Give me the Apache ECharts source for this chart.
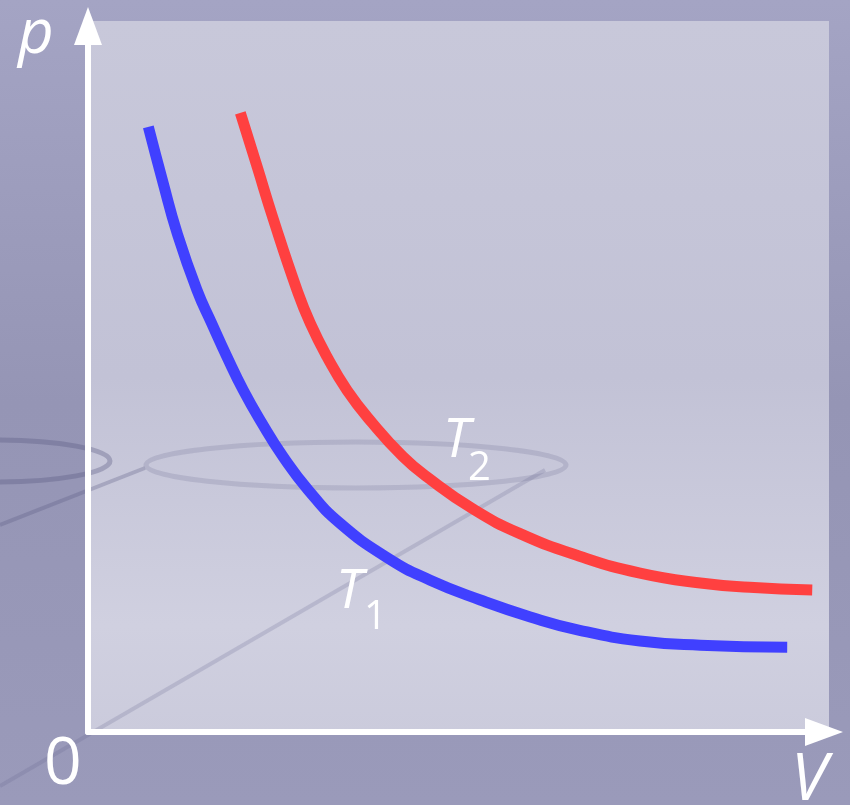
<!DOCTYPE html>
<html>
<head>
<meta charset="utf-8">
<script src="https://cdn.jsdelivr.net/npm/echarts@6/dist/echarts.min.js"></script>
<style>
  html, body { margin: 0; padding: 0; background: #9c9cbc; }
  #chart { width: 850px; height: 805px; }
</style>
</head>
<body>
<div id="chart"></div>
<script>
// isotherms p-V (arbitrary units, axes 0..10)
const t1V = [0.82, 1.02, 1.21, 1.48, 1.68, 1.89, 2.11, 2.36, 2.65, 2.99, 3.42, 4.08, 4.65, 5.33, 6.01, 6.68, 7.50, 8.32, 9.50]
const t1P = [8.57, 7.78, 7.07, 6.26, 5.79, 5.31, 4.84, 4.38, 3.90, 3.43, 2.96, 2.46, 2.15, 1.87, 1.63, 1.44, 1.29, 1.23, 1.20]
const t2V = [2.07, 2.30, 2.51, 2.84, 3.02, 3.25, 3.52, 3.86, 4.28, 4.61, 5.23, 5.87, 6.68, 7.50, 8.32, 8.99, 9.84]
const t2P = [8.77, 8.00, 7.29, 6.26, 5.79, 5.31, 4.84, 4.38, 3.90, 3.61, 3.16, 2.81, 2.49, 2.25, 2.11, 2.05, 2.01]

const FONT = '"Open Sans", "DejaVu Sans", sans-serif'

const pairs = (xs, ys) => xs.map((x, i) => [x, ys[i]])

const axisLine = {
  show: true,
  symbol: ['none', 'triangle'],
  symbolSize: [28, 38],
  lineStyle: { color: '#ffffff', width: 6 }
}

const chart = echarts.init(document.getElementById('chart'))
chart.setOption({
  animation: false,
  backgroundColor: {
    type: 'linear', x: 0, y: 0, x2: 0, y2: 1,
    colorStops: [
      { offset: 0, color: '#a4a4c4' },
      { offset: 0.5, color: '#9595b5' },
      { offset: 1, color: '#9a9aba' }
    ]
  },
  grid: { left: 88, right: 26, top: 26, bottom: 73 },
  xAxis: {
    type: 'value', min: 0, max: 10, z: 5,
    axisLine: axisLine,
    axisTick: { show: false },
    axisLabel: { show: false },
    splitLine: { show: false }
  },
  yAxis: {
    type: 'value', min: 0, max: 10, z: 5,
    axisLine: axisLine,
    axisTick: { show: false },
    axisLabel: { show: false },
    splitLine: { show: false }
  },
  graphic: [
    {
      type: 'rect', z: -10, silent: true,
      shape: { x: 88, y: 21, width: 741, height: 711 },
      style: {
        fill: {
          type: 'linear', x: 0, y: 0, x2: 0, y2: 1,
          colorStops: [
            { offset: 0, color: '#c8c8da' },
            { offset: 0.5, color: '#c2c2d6' },
            { offset: 0.85, color: '#d0d0e0' },
            { offset: 1, color: '#cbcbdc' }
          ]
        }
      }
    },
    // faint background decoration
    { type: 'ellipse', z: -5, silent: true, shape: { cx: 356, cy: 465, rx: 210, ry: 23 },
      style: { fill: 'none', stroke: 'rgba(110,110,145,0.22)', lineWidth: 5 } },
    { type: 'ellipse', z: -5, silent: true, shape: { cx: -5, cy: 461, rx: 115, ry: 21 },
      style: { fill: 'none', stroke: 'rgba(90,90,130,0.35)', lineWidth: 5 } },
    { type: 'line', z: -5, silent: true, shape: { x1: 0, y1: 786, x2: 545, y2: 470 },
      style: { stroke: 'rgba(100,100,140,0.22)', lineWidth: 4 } },
    { type: 'line', z: -5, silent: true, shape: { x1: 0, y1: 525, x2: 145, y2: 468 },
      style: { stroke: 'rgba(90,90,130,0.3)', lineWidth: 4 } },
    // labels
    { type: 'text', z: 20, left: 18, top: 4,
      style: { text: 'p', font: 'italic 62px ' + FONT, fill: '#ffffff' } },
    { type: 'text', z: 20, left: 44, top: 732,
      style: { text: '0', font: '66px ' + FONT, fill: '#ffffff' } },
    { type: 'text', z: 20, left: 791, top: 748,
      style: { text: 'V', font: 'italic 66px ' + FONT, fill: '#ffffff' } },
    { type: 'text', z: 20, left: 336, top: 566,
      style: { text: 'T', font: 'italic 54px ' + FONT, fill: '#ffffff' } },
    { type: 'text', z: 20, left: 364, top: 598,
      style: { text: '1', font: '40px ' + FONT, fill: '#ffffff' } },
    { type: 'text', z: 20, left: 443, top: 415,
      style: { text: 'T', font: 'italic 54px ' + FONT, fill: '#ffffff' } },
    { type: 'text', z: 20, left: 468, top: 449,
      style: { text: '2', font: '40px ' + FONT, fill: '#ffffff' } }
  ],
  series: [
    {
      name: 'T1', type: 'line', smooth: 0.5, symbol: 'none', z: 10,
      lineStyle: { color: '#4040ff', width: 11, cap: 'butt' },
      data: pairs(t1V, t1P)
    },
    {
      name: 'T2', type: 'line', smooth: 0.5, symbol: 'none', z: 10,
      lineStyle: { color: '#ff4040', width: 11, cap: 'butt' },
      data: pairs(t2V, t2P)
    }
  ]
})
</script>
</body>
</html>
